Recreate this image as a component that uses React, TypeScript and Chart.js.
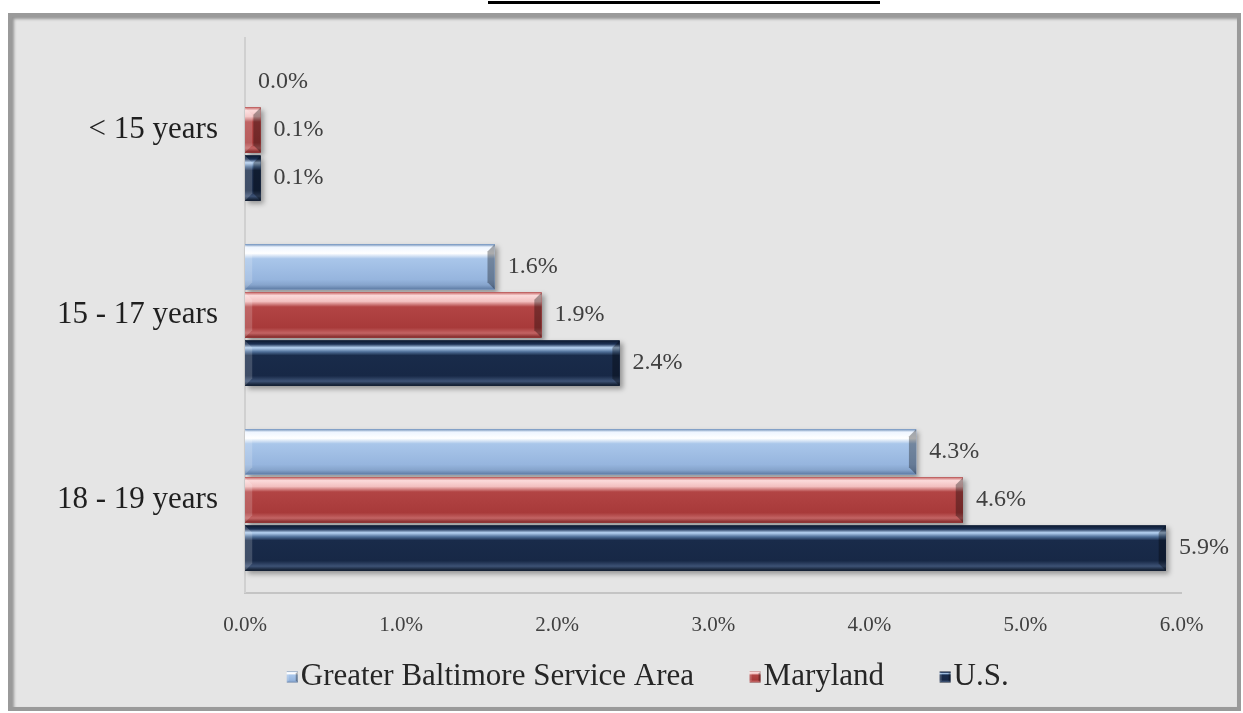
import React, { useEffect, useRef } from 'react';
import { Chart, registerables } from 'chart.js';

Chart.register(...registerables);

// ---- data ----
const categories = ['< 15 years', '15 - 17 years', '18 - 19 years'];
const seriesNames = ['Greater Baltimore Service Area', 'Maryland', 'U.S.'];
const baltimoreValues = [0.0, 1.6, 4.3];
const marylandValues = [0.1, 1.9, 4.6];
const usValues = [0.1, 2.4, 5.9];
const xTickLabels = ['0.0%', '1.0%', '2.0%', '3.0%', '4.0%', '5.0%', '6.0%'];

// ---- styles ----
const FONT = "'Liberation Serif', 'Times New Roman', serif";
const LEGEND_FONT_SIZE = 31;
const LEGEND_BOX_SPACE = 30;
const seriesColors = ['#96b5de', '#a83a3a', '#172846'];
const gradientStops: [number, string][][] = [
  [[0, '#6f8fb8'], [0.06, '#eef5ff'], [0.2, '#ffffff'], [0.32, '#a9c6ea'], [0.78, '#96b5de'], [0.9, '#86a4cc'], [1, '#5d7aa3']],
  [[0, '#c86a6a'], [0.07, '#fbdada'], [0.2, '#f3c0c0'], [0.32, '#b24444'], [0.78, '#a83a3a'], [0.9, '#c36464'], [1, '#7e2626']],
  [[0, '#0d1a30'], [0.08, '#1c3154'], [0.16, '#b8d4f3'], [0.25, '#4f6f98'], [0.33, '#192b4a'], [0.78, '#172846'], [0.9, '#3d5275'], [1, '#0d1829']],
];

function fillBevelRect(ctx: any, di: number, L: number, T: number, R: number, B: number, bevel: number) {
  const h = B - T;
  const g = ctx.createLinearGradient(0, T, 0, B);
  gradientStops[di].forEach(([o, c]) => g.addColorStop(o, c));
  ctx.fillStyle = g;
  ctx.fillRect(L, T, R - L, h);
  const b = Math.min(bevel, (R - L) / 2, h / 2);
  ctx.fillStyle = 'rgba(0,0,0,0.32)';
  ctx.beginPath();
  ctx.moveTo(R - b, T + b);
  ctx.lineTo(R, T);
  ctx.lineTo(R, B);
  ctx.lineTo(R - b, B - b);
  ctx.closePath();
  ctx.fill();
  ctx.fillStyle = 'rgba(255,255,255,0.18)';
  ctx.beginPath();
  ctx.moveTo(L, T);
  ctx.lineTo(L + b, T + b);
  ctx.lineTo(L + b, B - b);
  ctx.lineTo(L, B);
  ctx.closePath();
  ctx.fill();
}

const barPlugin = {
  id: 'bevelBars',
  beforeDatasetsDraw(chart: any) {
    const ctx = chart.ctx;
    ctx.save();
    chart.data.datasets.forEach((ds: any, di: number) => {
      const meta = chart.getDatasetMeta(di);
      meta.data.forEach((bar: any) => {
        const L = Math.min(bar.base, bar.x);
        const R = Math.max(bar.base, bar.x);
        const T = bar.y - bar.height / 2;
        const B = bar.y + bar.height / 2;
        if (R - L < 1) return;
        ctx.shadowColor = 'rgba(0,0,0,0.35)';
        ctx.shadowBlur = 5;
        ctx.shadowOffsetX = 3;
        ctx.shadowOffsetY = 3;
        ctx.fillStyle = seriesColors[di];
        ctx.fillRect(L, T, R - L, B - T);
      });
    });
    ctx.restore();
  },
  afterDatasetsDraw(chart: any) {
    const ctx = chart.ctx;
    ctx.save();
    chart.data.datasets.forEach((ds: any, di: number) => {
      const meta = chart.getDatasetMeta(di);
      meta.data.forEach((bar: any, i: number) => {
        const L = Math.min(bar.base, bar.x);
        const R = Math.max(bar.base, bar.x);
        const T = bar.y - bar.height / 2;
        const B = bar.y + bar.height / 2;
        if (R - L >= 1) fillBevelRect(ctx, di, L, T, R, B, (B - T) * 0.16);
        const v = ds.data[i] as number;
        ctx.fillStyle = '#404040';
        ctx.font = `24px ${FONT}`;
        ctx.textAlign = 'left';
        ctx.textBaseline = 'middle';
        ctx.fillText(v.toFixed(1) + '%', R + 13, bar.y);
      });
    });
    ctx.restore();
  },
  afterDraw(chart: any) {
    // legend markers drawn just before each legend text
    const legend = chart.legend;
    if (!legend || !legend.legendHitBoxes) return;
    const ctx = chart.ctx;
    ctx.save();
    legend.legendHitBoxes.forEach((hb: any, i: number) => {
      const textX = hb.left + LEGEND_BOX_SPACE + LEGEND_FONT_SIZE / 2;
      const cy = hb.top + hb.height / 2;
      const L = textX - 14;
      const T = cy - 5.5;
      fillBevelRect(ctx, i, L, T, L + 11, T + 11, 2);
    });
    ctx.restore();
  },
};

export default function App() {
  const canvasRef = useRef<HTMLCanvasElement | null>(null);

  useEffect(() => {
    if (!canvasRef.current) return;
    const chart = new Chart(canvasRef.current, {
      type: 'bar',
      data: {
        labels: categories,
        datasets: [
          { label: seriesNames[0], data: baltimoreValues, backgroundColor: seriesColors[0], borderWidth: 0 },
          { label: seriesNames[1], data: marylandValues, backgroundColor: seriesColors[1], borderWidth: 0 },
          { label: seriesNames[2], data: usValues, backgroundColor: seriesColors[2], borderWidth: 0 },
        ],
      },
      options: {
        indexAxis: 'y',
        responsive: false,
        animation: false,
        maintainAspectRatio: false,
        datasets: { bar: { categoryPercentage: 0.78, barPercentage: 0.94 } },
        layout: { padding: { left: 20, right: 0, top: 17.5, bottom: 10.5 } },
        scales: {
          x: {
            min: 0,
            max: 6,
            afterFit: (s: any) => { s.height = 45; s.paddingLeft = 0; s.paddingRight = 0; },
            ticks: {
              stepSize: 1,
              padding: 20,
              color: '#404040',
              font: { family: FONT, size: 21 },
              callback: (v: any) => xTickLabels[Math.round(Number(v))],
            },
            grid: { display: false, drawTicks: false },
            border: { display: true, color: '#c4c4c4', width: 2 },
          },
          y: {
            afterFit: (s: any) => { s.width = 211; s.paddingTop = 0; s.paddingBottom = 0; },
            ticks: {
              padding: 27,
              color: '#1f1f1f',
              font: { family: FONT, size: 31 },
            },
            grid: { display: false, drawTicks: false },
            border: { display: true, color: '#d0d0d0', width: 2 },
          },
          yRightSpace: {
            type: 'linear',
            axis: 'y',
            position: 'right',
            afterFit: (s: any) => { s.width = 48.5; s.paddingTop = 0; s.paddingBottom = 0; },
            ticks: { display: false },
            grid: { display: false, drawTicks: false },
            border: { display: false },
          },
        },
        plugins: {
          legend: {
            position: 'bottom',
            labels: {
              boxWidth: LEGEND_BOX_SPACE,
              boxHeight: 0,
              padding: 24,
              color: '#262626',
              font: { family: FONT, size: LEGEND_FONT_SIZE },
            },
          },
          tooltip: { enabled: false },
        },
      },
      plugins: [barPlugin],
    } as any);
    return () => chart.destroy();
  }, []);

  return (
    <div style={{ position: 'fixed', left: 0, top: 0, width: 1243, height: 713, background: '#ffffff', overflow: 'hidden' }}>
      <div style={{ position: 'absolute', left: 488, top: 1, width: 392, height: 3, background: '#000' }} />
      <div
        style={{
          position: 'absolute',
          left: 8,
          top: 13,
          width: 1233,
          height: 698,
          boxSizing: 'border-box',
          border: '4px solid #9a9a9a',
          boxShadow: 'inset 2px 2px 3px rgba(0,0,0,0.35)',
          background: '#e5e5e5',
        }}
      />
      <canvas
        ref={canvasRef}
        width={1216}
        height={693}
        style={{ position: 'absolute', left: 14, top: 20, width: 1216, height: 693 }}
      />
    </div>
  );
}
